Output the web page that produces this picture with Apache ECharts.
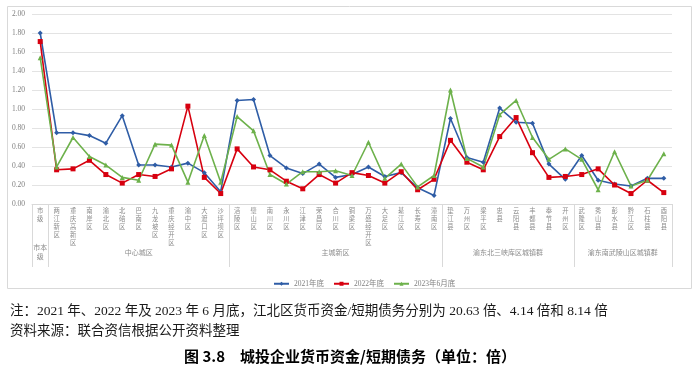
<!DOCTYPE html>
<html><head><meta charset="utf-8">
<script src="https://cdn.jsdelivr.net/npm/echarts@6/dist/echarts.min.js"></script>
<style>html,body{margin:0;padding:0;background:#fff}#c{width:700px;height:367px}</style>
</head><body><div id="c"></div>
<script>
const categories = ['市级','两江新区','重庆高新区','南岸区','渝北区','北碚区','巴南区','九龙坡区','重庆经开区','渝中区','大渡口区','沙坪坝区',
  '涪陵区','璧山区','南川区','永川区','江津区','荣昌区','合川区','铜梁区','万盛经开区','大足区','綦江区','长寿区','潼南区',
  '垫江县','万州区','梁平区','忠县','云阳县','丰都县','奉节县','开州区',
  '武隆区','秀山县','彭水县','黔江区','石柱县','酉阳县'];
const s2021 = [1.80,0.75,0.75,0.72,0.64,0.93,0.41,0.41,0.39,0.43,0.33,0.13,
  1.09,1.10,0.51,0.38,0.32,0.42,0.28,0.31,0.39,0.29,0.33,0.17,0.09,
  0.90,0.49,0.44,1.01,0.86,0.85,0.42,0.26,
  0.51,0.25,0.21,0.19,0.27,0.27];
const s2022 = [1.71,0.36,0.37,0.46,0.31,0.22,0.31,0.29,0.37,1.03,0.28,0.11,
  0.58,0.39,0.36,0.24,0.16,0.31,0.22,0.33,0.30,0.22,0.34,0.15,0.26,
  0.67,0.44,0.36,0.71,0.91,0.54,0.28,0.29,
  0.31,0.37,0.20,0.11,0.25,0.12];
const s2023 = [1.54,0.39,0.70,0.50,0.41,0.28,0.25,0.63,0.62,0.23,0.72,0.23,
  0.92,0.77,0.31,0.21,0.34,0.34,0.35,0.30,0.65,0.27,0.42,0.18,0.30,
  1.20,0.48,0.39,0.94,1.09,0.70,0.47,0.58,
  0.47,0.15,0.55,0.19,0.25,0.53];
const seriesNames = ['2021年底','2022年底','2023年6月底'];
const groupNames = ['市本\n级','中心城区','主城新区','渝东北三峡库区城镇群','渝东南武陵山区城镇群'];
const groupSizes = [1,11,13,8,6];
const yMin = 0, yMax = 2, yInterval = 0.2;
const noteLine1 = '注：2021 年、2022 年及 2023 年 6 月底，江北区货币资金/短期债务分别为 20.63 倍、4.14 倍和 8.14 倍';
const noteLine2 = '资料来源：联合资信根据公开资料整理';
const figTitle = '图 3.8　城投企业货币资金/短期债务（单位：倍）';

const FONT = "'Liberation Serif','Noto Sans CJK SC',serif";
const chart = echarts.init(document.getElementById('c'), null, {renderer:'canvas'});
const colors = ['#2F5DA6','#D7000F','#6DB14B'];
const symbols = ['diamond','rect','triangle'];
const datas = [s2021, s2022, s2023];

chart.setOption({
  animation:false,
  textStyle:{fontFamily:FONT},
  color:colors,
  grid:{left:32, right:28, top:14, bottom:163},
  legend:{left:268, top:275, itemWidth:15, itemHeight:5, itemGap:9,
    textStyle:{fontSize:7.5, color:'#7F7F7F', fontFamily:FONT},
    data:seriesNames},
  xAxis:{type:'category', data:categories, boundaryGap:true,
    axisLine:{lineStyle:{color:'#D9D9D9', width:1}},
    axisTick:{show:false},
    axisLabel:{interval:0, fontSize:6.3, lineHeight:8, color:'#8C8C8C', margin:3, verticalAlign:'top',
      formatter:v=>v.split('').join('\n')}},
  yAxis:{type:'value', min:yMin, max:yMax, interval:yInterval,
    axisLine:{show:false}, axisTick:{show:false},
    axisLabel:{fontSize:7.5, color:'#7F7F7F', margin:7, formatter:v=>v.toFixed(2)},
    splitLine:{lineStyle:{color:'#E3E3E3', width:1}}},
  series: datas.map((d,i)=>({
    name:seriesNames[i], type:'line', data:d, symbol:symbols[i], symbolSize:5,
    showSymbol:true, lineStyle:{width:1.6, color:colors[i]}, itemStyle:{color:colors[i]}
  }))
});

const c0 = chart.convertToPixel({xAxisIndex:0}, 0);
const c1 = chart.convertToPixel({xAxisIndex:0}, 1);
const bw = c1 - c0;
const yAxisPix = chart.convertToPixel({yAxisIndex:0}, 0);
const boundaryX = i => c0 - bw/2 + i*bw;
const graphics = [];
let idx = 0;
const bounds = [0];
groupSizes.forEach(s=>{ idx += s; bounds.push(idx); });
bounds.forEach(b=>{
  const x = Math.round(boundaryX(b)) + 0.5;
  graphics.push({type:'line', silent:true, shape:{x1:x, y1:yAxisPix, x2:x, y2:yAxisPix+63},
    style:{stroke:'#D9D9D9', lineWidth:1}});
});
groupNames.forEach((g,i)=>{
  const cx = (boundaryX(bounds[i]) + boundaryX(bounds[i+1]))/2;
  graphics.push({type:'text', silent:true, x:cx, y:yAxisPix+49,
    style:{text:g, lineHeight:9, fill:'#8C8C8C', align:'center', verticalAlign:'middle', font:"7px "+FONT}});
});
graphics.push({type:'rect', silent:true, z:-1, shape:{x:7.5, y:6.5, width:684, height:282},
  style:{stroke:'#D9D9D9', fill:'none', lineWidth:1}});
graphics.push({type:'text', silent:true, x:10, y:311,
  style:{text:noteLine1, fill:'#1a1a1a', verticalAlign:'middle', font:"13.5px "+FONT}});
graphics.push({type:'text', silent:true, x:10, y:331,
  style:{text:noteLine2, fill:'#1a1a1a', verticalAlign:'middle', font:"13.5px "+FONT}});
graphics.push({type:'text', silent:true, x:350, y:356,
  style:{text:figTitle, fill:'#000', align:'center', verticalAlign:'middle', font:"bold 15px 'Noto Sans CJK SC','Liberation Sans',sans-serif"}});
chart.setOption({graphic:graphics});
</script></body></html>
